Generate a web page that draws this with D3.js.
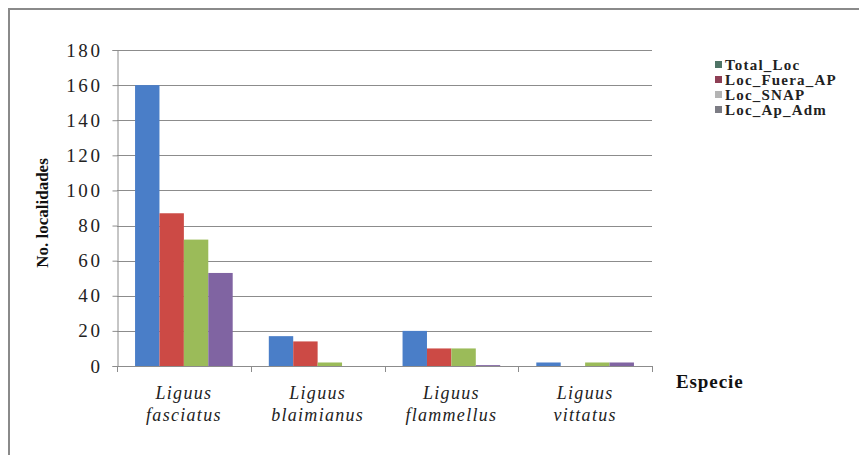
<!DOCTYPE html>
<html>
<head>
<meta charset="utf-8">
<script src="https://cdn.jsdelivr.net/npm/d3@7"></script>
<style>
  html, body { margin: 0; padding: 0; background: #fff; }
  svg { display: block; }
</style>
</head>
<body>
<svg id="chart" width="859" height="455"></svg>
<script>
// Species (two-line labels) and the four locality series
const species = [["Liguus", "fasciatus"], ["Liguus", "blaimianus"], ["Liguus", "flammellus"], ["Liguus", "vittatus"]];
const seriesNames = ["Total_Loc", "Loc_Fuera_AP", "Loc_SNAP", "Loc_Ap_Adm"];
const totalLoc    = [160, 17, 20, 2];
const locFueraAP  = [87, 14, 10, 0];
const locSNAP     = [72, 2, 10, 2];
const locApAdm    = [53, 0, 0.5, 2];
const yTicks = [0, 20, 40, 60, 80, 100, 120, 140, 160, 180];

const barColors = ["#4a7ec8", "#cc4a45", "#9bbb59", "#8064a2"];
const legendColors = ["#4f7466", "#8e3f55", "#b4b4b4", "#7c7c84"];
const SERIF = "'Liberation Serif', 'Times New Roman', Tinos, serif";

const svg = d3.select("#chart");
const m = { left: 117, right: 652, top: 50, bottom: 366 };

const seriesVals = [totalLoc, locFueraAP, locSNAP, locApAdm];
const data = species.map((s, i) => ({ key: i, vals: seriesVals.map(v => v[i]) }));

const x0 = d3.scaleBand().domain(d3.range(species.length)).range([m.left, m.right]).paddingInner(0.27).paddingOuter(0.135);
const x1 = d3.scaleBand().domain(d3.range(seriesNames.length)).range([0, x0.bandwidth()]);
const y = d3.scaleLinear().domain([0, 180]).range([m.bottom, m.top]);

// outer frame
svg.append("path").attr("d", "M9,455 V9 H859").attr("fill", "none").attr("stroke", "#8a8a8a").attr("stroke-width", 2);

// gridlines
svg.append("g").selectAll("line").data(yTicks.filter(t => t > 0)).join("line")
  .attr("x1", m.left).attr("x2", m.right)
  .attr("y1", d => Math.round(y(d)) + 0.5).attr("y2", d => Math.round(y(d)) + 0.5)
  .attr("stroke", "#8c8c8c").attr("stroke-width", 1);

// bars
const groups = svg.append("g").selectAll("g").data(data).join("g")
  .attr("transform", d => `translate(${x0(d.key)},0)`);
groups.selectAll("rect").data(d => d.vals.map((v, j) => ({ v, j }))).join("rect")
  .attr("x", d => x1(d.j))
  .attr("width", x1.bandwidth())
  .attr("y", d => y(d.v))
  .attr("height", d => y(0) - y(d.v))
  .attr("fill", d => barColors[d.j]);

// y axis
const yAxis = d3.axisLeft(y).tickValues(yTicks).tickSize(5).tickPadding(10);
const gy = svg.append("g").attr("transform", `translate(${m.left + 0.5},0)`).call(yAxis);
gy.select(".domain").attr("stroke", "#8c8c8c");
gy.selectAll(".tick line").attr("stroke", "#8c8c8c");
gy.selectAll(".tick text")
  .style("font-family", SERIF).style("font-size", "19px").style("letter-spacing", "2.6px")
  .attr("fill", "#222");

// x axis baseline with category boundary ticks
const bounds = d3.range(species.length + 1).map(i => m.left + i * (m.right - m.left) / species.length);
svg.append("line").attr("x1", m.left).attr("x2", m.right).attr("y1", m.bottom + 0.5).attr("y2", m.bottom + 0.5).attr("stroke", "#8c8c8c");
svg.append("g").selectAll("line").data(bounds).join("line")
  .attr("x1", d => Math.round(d) + 0.5).attr("x2", d => Math.round(d) + 0.5)
  .attr("y1", m.bottom).attr("y2", m.bottom + 6).attr("stroke", "#8c8c8c");

// category labels
const cat = svg.append("g").selectAll("text").data(species).join("text")
  .attr("text-anchor", "middle").attr("fill", "#222")
  .style("font-family", SERIF).style("font-style", "italic").style("font-size", "18px").style("letter-spacing", "1.3px")
  .attr("transform", (d, i) => `translate(${x0(i) + x0.bandwidth() / 2},0)`);
cat.append("tspan").attr("x", 0).attr("y", 399).text(d => d[0]);
cat.append("tspan").attr("x", 0).attr("y", 421).text(d => d[1]);

// axis titles
svg.append("text").attr("transform", "translate(48,213) rotate(-90)")
  .attr("text-anchor", "middle").attr("fill", "#111")
  .style("font-family", SERIF).style("font-weight", "bold").style("font-size", "17px")
  .text("No. localidades");
svg.append("text").attr("x", 676).attr("y", 388).attr("fill", "#111")
  .style("font-family", SERIF).style("font-weight", "bold").style("font-size", "19px").style("letter-spacing", "0.9px")
  .text("Especie");

// legend
const lg = svg.append("g").selectAll("g").data(seriesNames).join("g")
  .attr("transform", (d, i) => `translate(715,${65 + i * 15})`);
lg.append("rect").attr("x", 0).attr("y", -4).attr("width", 7).attr("height", 7).attr("fill", (d, i) => legendColors[i]);
lg.append("text").attr("x", 10).attr("y", 5).attr("fill", "#222")
  .style("font-family", SERIF).style("font-size", "15px").style("font-weight", "bold").style("letter-spacing", "1.2px")
  .text(d => d);
</script>
</body>
</html>
